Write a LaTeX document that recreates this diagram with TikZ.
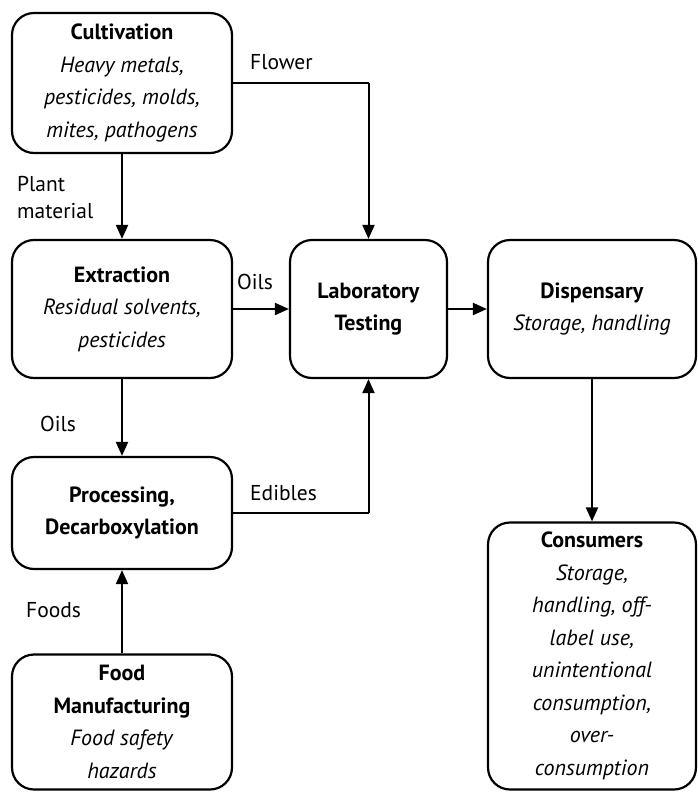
\documentclass[tikz,border=0pt]{standalone}
\usepackage{fontspec}
\setmainfont{PT Sans}
\usetikzlibrary{arrows.meta}
\begin{document}
\begin{tikzpicture}[x=1pt,y=-1pt,
  box/.style={draw, line width=2.2pt, rounded corners=22pt, inner sep=0pt, align=center,
    font=\fontsize{22}{32.5}\selectfont},
  lbl/.style={font=\fontsize{21.5}{27}\selectfont, inner sep=0pt},
  conn/.style={line width=2pt, -{Triangle[length=14pt,width=12pt]}},
  wire/.style={line width=2pt}]
\useasboundingbox (0,0) rectangle (697,793);
\node[box, minimum width=220pt, minimum height=140pt] (cult) at (122,83)
  {\textbf{Cultivation}\\\textit{Heavy metals,}\\\textit{pesticides, molds,}\\\textit{mites, pathogens}};
\node[box, minimum width=220pt, minimum height=138pt] (extr) at (122,309)
  {\textbf{Extraction}\\\textit{Residual solvents,}\\\textit{pesticides}};
\node[box, minimum width=157pt, minimum height=138pt] (lab) at (368.5,309)
  {\textbf{Laboratory}\\\textbf{Testing}};
\node[box, minimum width=208pt, minimum height=138pt] (disp) at (592,309)
  {\textbf{Dispensary}\\\textit{Storage, handling}};
\node[box, minimum width=208pt, minimum height=267pt] (cons) at (592,656)
  {\textbf{Consumers}\\\textit{Storage,}\\\textit{handling, off-}\\\textit{label use,}\\\textit{unintentional}\\\textit{consumption,}\\\textit{over-}\\\textit{consumption}};
\node[box, minimum width=220pt, minimum height=112pt] (proc) at (122,513)
  {\textbf{Processing,}\\\textbf{Decarboxylation}};
\node[box, minimum width=220pt, minimum height=135pt] (food) at (122,722)
  {\textbf{Food}\\\textbf{Manufacturing}\\\textit{Food safety}\\\textit{hazards}};
% connectors
\coordinate (fl) at (lab.north |- 0,83);
\draw[wire] (cult.east |- fl) -- (fl);
\draw[conn] (fl) -- (lab.north);
\draw[conn] (cult.south) -- (extr.north);
\draw[conn] (extr.east) -- (lab.west);
\draw[conn] (lab.east) -- (disp.west);
\draw[conn] (disp.south) -- (cons.north);
\draw[conn] (extr.south) -- (proc.north);
\coordinate (ed) at (lab.south |- proc.east);
\draw[wire] (proc.east) -- (ed);
\draw[conn] (ed) -- (lab.south);
\draw[conn] (food.north) -- (proc.south);
% labels
\node[lbl, anchor=west] (lflower) at (250,62) {Flower};
\node[lbl, anchor=west, align=left] (lplant) at (17,198) {Plant\\material};
\node[lbl, anchor=west] (loils1) at (237,282) {Oils};
\node[lbl, anchor=west] (loils2) at (40,424) {Oils};
\node[lbl, anchor=west] (ledib) at (250,493) {Edibles};
\node[lbl, anchor=west] (lfoods) at (26,610) {Foods};
\end{tikzpicture}
\end{document}
